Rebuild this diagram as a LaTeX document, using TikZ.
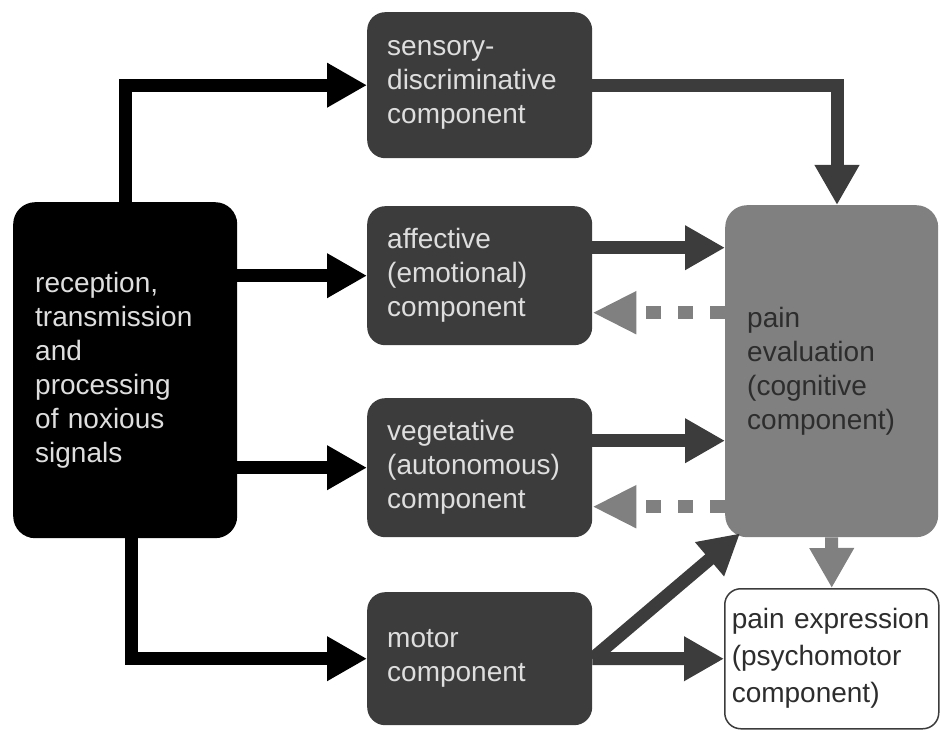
\documentclass[tikz,border=0pt]{standalone}
\usepackage{fontspec}
\setmainfont{Liberation Sans}
\usetikzlibrary{arrows.meta}
\definecolor{darkbox}{RGB}{60,60,60}
\definecolor{midbox}{RGB}{128,128,128}
\definecolor{boxtext}{RGB}{222,222,222}
\definecolor{evaltext}{RGB}{45,45,45}

\begin{document}
\begin{tikzpicture}
    [x=1pt,y=-1pt,
     every node/.style={anchor=north west,align=left,inner ysep=0pt,
        font={\fontsize{28pt}{34pt}\selectfont}},
     comp/.style={fill=darkbox,text=boxtext,rounded corners=18pt,
        minimum height=139pt,text width=185pt,inner xsep=20pt},
     flow/.style={line width=13pt,-{Triangle[length=40pt,width=42pt]}},
     back/.style={line width=13pt,midbox,dash pattern=on 15pt off 17pt,
        -{Triangle[length=44pt,width=40pt]}}]
\useasboundingbox (0,0) rectangle (940,730);
\path
    (13,202) node [fill=black,text=boxtext,rounded corners=22pt,minimum height=336pt,
        text width=180pt,inner xsep=22pt] (signals)
        {reception,\\transmission\\and\\processing\\of noxious\\signals}
    (367,12) node [comp,minimum height=146pt] (sensory) {sensory-\\discriminative\\component}
    (367,206) node [comp] (affective) {affective\\(emotional)\\component}
    (367,398) node [comp] (vegetative) {vegetative\\(autonomous)\\component}
    (367,592) node [comp,minimum height=133pt] (motor) {motor\\component}
    (725,205) node [fill=midbox,text=evaltext,rounded corners=22pt,minimum height=332pt,
        text width=169pt,inner xsep=22pt] (evaluation)
        {pain\\evaluation\\(cognitive\\component)}
    (724,588) node [fill=white,draw=darkbox,line width=1.5pt,text=evaltext,rounded corners=16pt,
        minimum height=140pt,text width=200pt,inner xsep=7pt,
        font={\fontsize{28pt}{37pt}\selectfont}] (expression)
        {pain expression\\(psychomotor\\component)};
\coordinate (affin) at ([yshift=28pt]affective.east);
\coordinate (affback) at ([yshift=-37pt]affective.east);
\coordinate (vegin) at ([yshift=27pt]vegetative.east);
\coordinate (vegback) at ([yshift=-39pt]vegetative.east);
\coordinate (sensturn) at ([xshift=112pt]evaluation.north west);
\coordinate (corner) at ([xshift=15pt,yshift=4pt]evaluation.south west);
\draw [flow] ([xshift=112pt]signals.north west) |- (sensory.west);
\draw [flow] (signals.east |- affective.west) -- (affective.west);
\draw [flow] (signals.east |- vegetative.west) -- (vegetative.west);
\draw [flow] ([xshift=118pt]signals.south west) |- (motor.west);
\draw [flow,darkbox] (sensory.east) -| (sensturn);
\draw [flow,darkbox] (affin) -- (affin -| evaluation.west);
\draw [back] (affback -| evaluation.west) -- (affback);
\draw [flow,darkbox] (vegin) -- (vegin -| evaluation.west);
\draw [back] (vegback -| evaluation.west) -- (vegback);
\draw [flow,darkbox] (motor.east) -- (expression.west);
\draw [flow,darkbox] (motor.east) -- (corner);
\draw [flow,midbox] (evaluation.south) -- (expression.north);
\end{tikzpicture}
\end{document}
